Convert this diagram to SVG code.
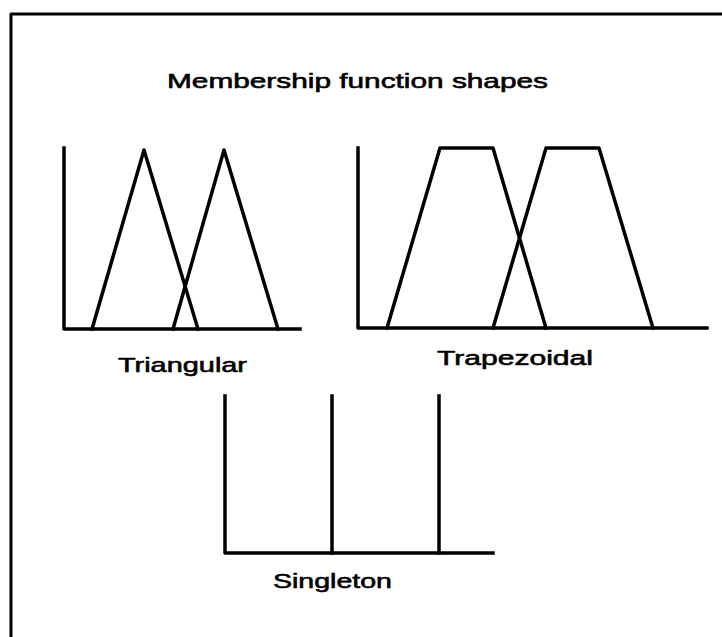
<svg xmlns="http://www.w3.org/2000/svg" width="722" height="637" viewBox="0 0 722 637">
<style>
.ln{fill:none;stroke:#000;stroke-width:3.5;stroke-linejoin:round;stroke-linecap:square}
.t{font-family:"Liberation Sans",Arial,sans-serif;font-size:21px;fill:#000;stroke:#000;stroke-width:0.6}
</style>
<rect width="722" height="637" fill="#fff"/>
<g id="frame">
<polyline class="ln" style="stroke-width:3" points="11,637 11,14 722,14"/>
</g>
<g id="title">
<text class="t" x="167" y="88" textLength="381" lengthAdjust="spacingAndGlyphs">Membership function shapes</text>
</g>
<g id="triangular">
<polyline class="ln" points="64,148 64,329 300,329"/>
<polyline class="ln" points="92,329 144,150 198,329"/>
<polyline class="ln" points="173,329 224,150 278,329"/>
<text class="t" x="118" y="372" textLength="129" lengthAdjust="spacingAndGlyphs">Triangular</text>
</g>
<g id="trapezoidal">
<polyline class="ln" points="358,148 358,328 707,328"/>
<polyline class="ln" points="387,328 440,148 493,148 546,328"/>
<polyline class="ln" points="493,328 546,148 599,148 653,328"/>
<text class="t" x="437" y="365" textLength="156" lengthAdjust="spacingAndGlyphs">Trapezoidal</text>
</g>
<g id="singleton">
<polyline class="ln" points="225,396 225,553 493,553"/>
<line class="ln" x1="332" y1="396" x2="332" y2="553"/>
<line class="ln" x1="439" y1="396" x2="439" y2="553"/>
<text class="t" x="273" y="588" textLength="119" lengthAdjust="spacingAndGlyphs">Singleton</text>
</g>
<g id="connectors"/>
</svg>
